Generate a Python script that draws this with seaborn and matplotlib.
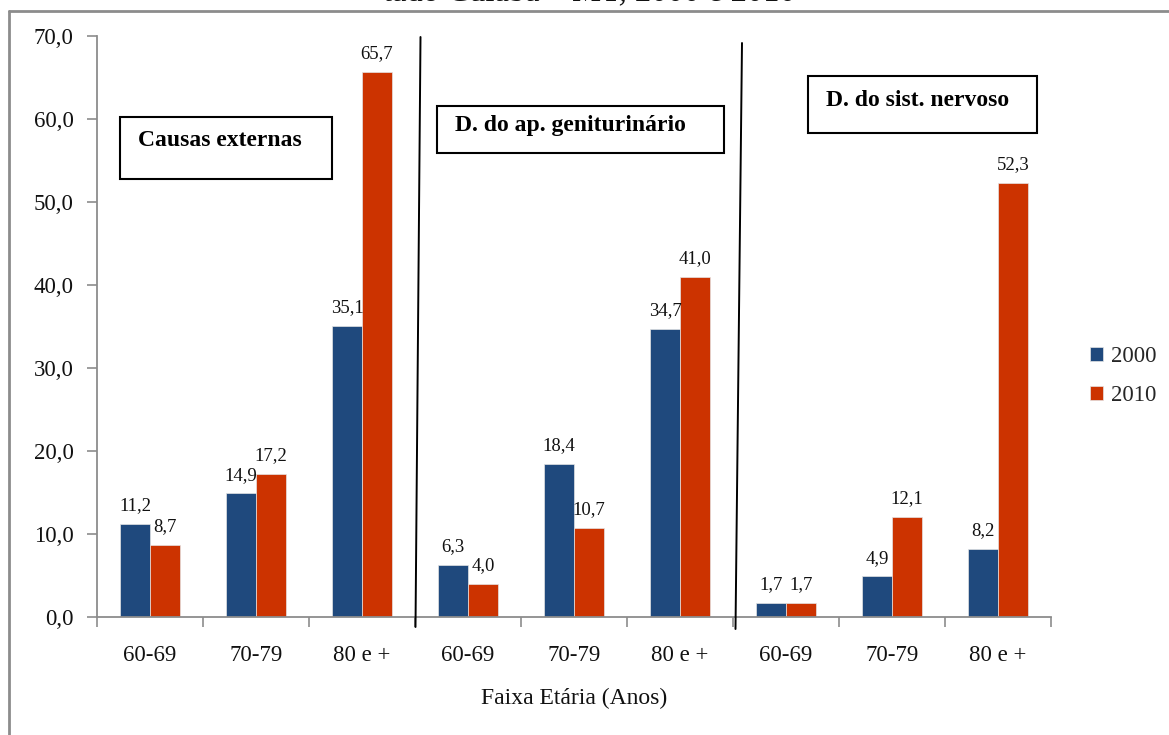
import matplotlib
matplotlib.use("Agg")
import matplotlib.pyplot as plt
from matplotlib.patches import Rectangle
from matplotlib.lines import Line2D
from matplotlib.ticker import FixedLocator, FuncFormatter
import seaborn as sns
import pandas as pd

# Data: mortality rates by cause group, age band and year
groups = ["Causas externas", "D. do ap. geniturinário", "D. do sist. nervoso"]
age_bands = ["60-69", "70-79", "80 e +"]
years = ["2000", "2010"]
values_2000 = [11.2, 14.9, 35.1, 6.3, 18.4, 34.7, 1.7, 4.9, 8.2]
values_2010 = [8.7, 17.2, 65.7, 4.0, 10.7, 41.0, 1.7, 12.1, 52.3]
y_ticks = [0, 10, 20, 30, 40, 50, 60, 70]

slots = [f"{g}|{a}" for g in groups for a in age_bands]
df = pd.DataFrame({
    "slot": slots * 2,
    "ano": [years[0]] * len(slots) + [years[1]] * len(slots),
    "taxa": values_2000 + values_2010,
})

sns.set_theme(style="white")
plt.rcParams["font.family"] = ["Liberation Serif", "DejaVu Serif"]

W, H = 1169, 735
fig = plt.figure(figsize=(W / 100, H / 100), dpi=100)
ax = fig.add_axes([97 / W, 1 - 617 / H, (1051 - 97) / W, (617 - 36) / H])

colors = {"2000": "#1F497D", "2010": "#CC3300"}
sns.barplot(data=df, x="slot", y="taxa", hue="ano", order=slots,
            hue_order=years, palette=colors, saturation=1, width=0.56, gap=0,
            edgecolor="#e4e4e4", linewidth=0.5, ax=ax, legend=True)

# value labels above each bar
for cont in ax.containers:
    labels = [f"{v:.1f}".replace(".", ",") for v in cont.datavalues]
    ax.bar_label(cont, labels=labels, padding=7, fontsize=13.5, color="#111111")

ax.set_xlim(-0.5, len(slots) - 0.5)
ax.set_ylim(0, 70)
ax.yaxis.set_major_locator(FixedLocator(y_ticks))
ax.yaxis.set_major_formatter(FuncFormatter(lambda v, p: f"{v:.1f}".replace(".", ",")))

ax.set_xticks(range(len(slots)))
ax.set_xticklabels([s.split("|")[1] for s in slots])
ax.set_xticks([i - 0.5 for i in range(len(slots) + 1)], minor=True)
ax.tick_params(axis="x", which="major", length=0, pad=20, labelsize=16.5, colors="#111111")
ax.tick_params(axis="x", which="minor", length=7, width=1.2, color="#8c8c8c", bottom=True)
ax.tick_params(axis="y", which="major", length=7, width=1.2, color="#8c8c8c",
               left=True, pad=10, labelsize=16.5, labelcolor="#111111")

for side in ("top", "right"):
    ax.spines[side].set_visible(False)
for side in ("left", "bottom"):
    ax.spines[side].set_color("#8c8c8c")
    ax.spines[side].set_linewidth(1.3)

ax.set_xlabel("Faixa Etária (Anos)", fontsize=17, labelpad=16, color="#111111")
ax.set_ylabel("")
ax.grid(False)


def fx(px):
    return px / W


def fy(py):
    return 1 - py / H


leg = ax.legend(loc="center left", bbox_to_anchor=(fx(1090), fy(376)),
                bbox_transform=fig.transFigure, frameon=False, fontsize=16.5,
                borderpad=0, borderaxespad=0,
                handlelength=0.57, handleheight=0.57, handletextpad=0.35,
                labelspacing=0.8, title=None)

# outer chart frame
fig.add_artist(Line2D([fx(9), fx(1169)], [fy(11), fy(11)], color="#8c8c8c", lw=2))
fig.add_artist(Line2D([fx(9), fx(9)], [fy(11), fy(735)], color="#8c8c8c", lw=2))

# partly clipped title line at the very top
fig.text(fx(589), fy(0.5), "tado Cuiabá – MT, 2000 e 2010", ha="center", va="baseline",
         fontsize=23.5, color="#111111")

# hand-drawn dividers between cause groups
fig.add_artist(Line2D([fx(420.5), fx(415.5)], [fy(37), fy(627)], color="black", lw=1.4))
fig.add_artist(Line2D([fx(742), fx(735.5)], [fy(43), fy(629)], color="black", lw=1.4))

# group label boxes
boxes = [
    (groups[0], 120, 117, 332, 179, 138, 141),
    (groups[1], 437, 106, 724, 153, 455, 125),
    (groups[2], 808, 76, 1037, 133, 826, 100),
]
for text, x0, y0, x1, y1, tx, ty in boxes:
    fig.add_artist(Rectangle((fx(x0), fy(y1)), fx(x1) - fx(x0), fy(y0) - fy(y1),
                             transform=fig.transFigure, facecolor="white",
                             edgecolor="black", lw=1.5))
    fig.text(fx(tx), fy(ty), text, ha="left", va="center", fontsize=17,
             fontweight="bold", color="black")

fig.savefig("out.png", dpi=100, facecolor="white")
